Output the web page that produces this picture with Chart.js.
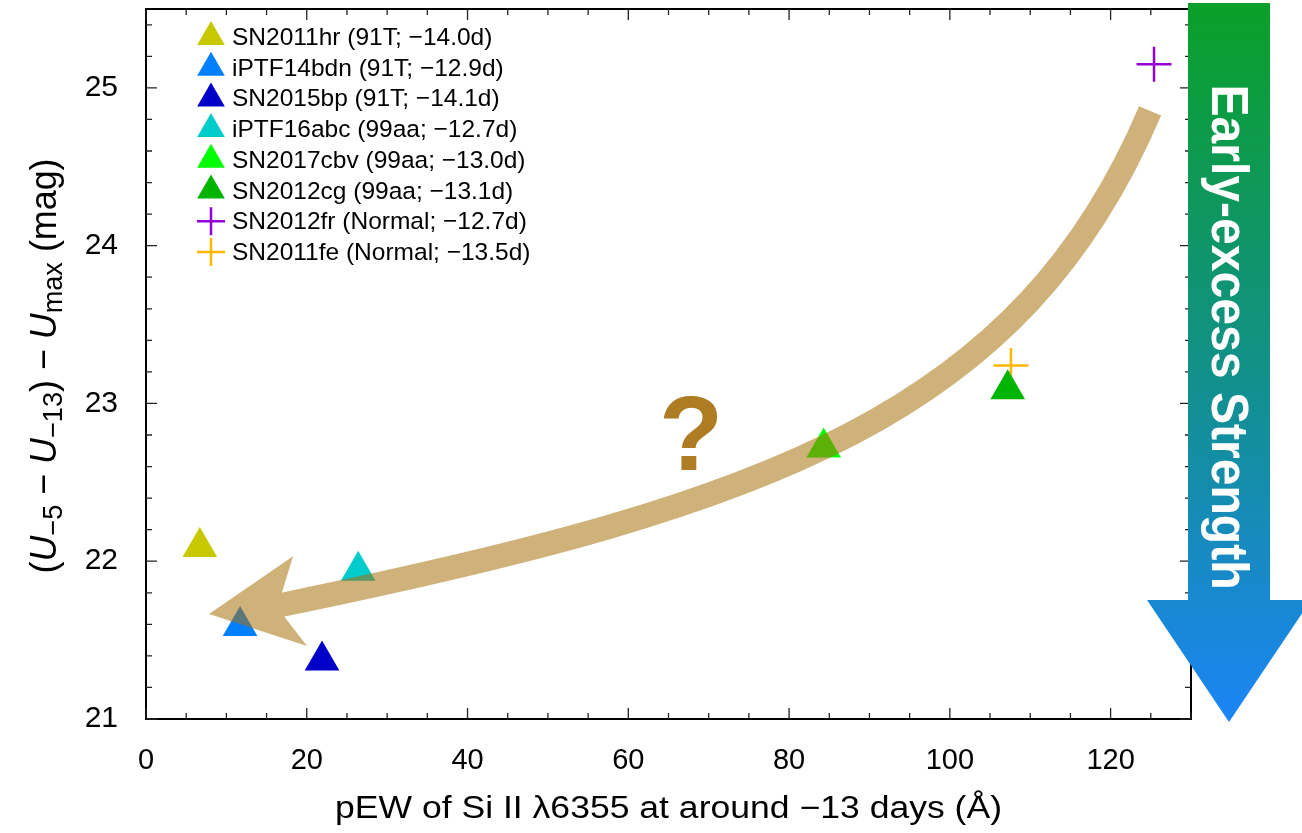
<!DOCTYPE html>
<html><head><meta charset="utf-8">
<script src="https://cdn.jsdelivr.net/npm/chart.js@4.4.1/dist/chart.umd.min.js"></script>
<style>html,body{margin:0;padding:0;background:#fff;overflow:hidden}#wrap{width:1302px;height:833px;position:relative}</style>
</head><body><div id="wrap"><canvas id="c" width="1302" height="833"></canvas></div>
<script>
// ---- data ----
const SN_NAMES = ['SN2011hr','iPTF14bdn','SN2015bp','iPTF16abc','SN2017cbv','SN2012cg','SN2012fr','SN2011fe'];
const SN_CLASS = ['91T','91T','91T','99aa','99aa','99aa','Normal','Normal'];
const SN_PHASE = [-14.0,-12.9,-14.1,-12.7,-13.0,-13.1,-12.7,-13.5];
const PEW_SI   = [6.7, 11.7, 21.9, 26.4, 84.3, 107.2, 125.4, 107.6];
const DELTA_U  = [22.09, 21.59, 21.37, 21.94, 22.72, 23.09, 25.15, 23.24];
const X_TICKS = [0,20,40,60,80,100,120];
const Y_TICKS = [21,22,23,24,25];
// ---- styles ----
const COLORS  = ['#C8C800','#0080FF','#0000C8','#00CCCC','#00FF00','#00B400','#9400D3','#FFB700'];
const MARKERS = ['triangle','triangle','triangle','triangle','triangle','triangle','cross','cross'];
// ---- annotation geometry (data units) ----
const TREND_CURVE = [[124.91,24.854],[108.86,22.930],[77.63,22.361],[17.29,21.728]];
const TREND_HEAD  = [[7.84,21.665],[18.29,22.032],[16.92,21.804],[17.17,21.652],[20.03,21.462]];
const QMARK_AT = [67.8, 22.576];

const FONT = '"Liberation Sans", Arial, Helvetica, sans-serif';
const MINUS = '\u2212';
function fmtPhase(p){ return (p<0?MINUS:'') + Math.abs(p).toFixed(1) + 'd'; }
const LABELS = SN_NAMES.map((n,i)=>`${n} (${SN_CLASS[i]}; ${fmtPhase(SN_PHASE[i])})`);

const datasets = SN_NAMES.map((n,i)=>({
  label: LABELS[i],
  data: [{x: PEW_SI[i], y: DELTA_U[i]}],
  pointStyle: MARKERS[i],
  pointRadius: MARKERS[i]==='triangle' ? 20 : 17.5,
  backgroundColor: COLORS[i],
  borderColor: COLORS[i],
  borderWidth: MARKERS[i]==='triangle' ? 0 : 2.5,
  showLine: false
}));

function drawMarker(ctx, style, x, y, r, color){
  ctx.save();
  ctx.fillStyle = color; ctx.strokeStyle = color; ctx.lineWidth = 2.5;
  ctx.beginPath();
  if (style === 'triangle'){
    for (let k=0;k<3;k++){
      const ang = k*2*Math.PI/3;
      const px = x + Math.sin(ang)*r, py = y - Math.cos(ang)*r;
      k===0 ? ctx.moveTo(px,py) : ctx.lineTo(px,py);
    }
    ctx.closePath(); ctx.fill();
  } else {
    ctx.moveTo(x-r,y); ctx.lineTo(x+r,y); ctx.moveTo(x,y-r); ctx.lineTo(x,y+r); ctx.stroke();
  }
  ctx.restore();
}

function fitText(ctx, text, x, y, targetW){
  const w = ctx.measureText(text).width;
  ctx.save(); ctx.translate(x,y); ctx.scale(targetW/w,1);
  ctx.textAlign='center'; ctx.fillText(text,0,0); ctx.restore();
}

const decor = {
  id: 'decor',
  afterDatasetsDraw(chart){
    const {ctx, scales:{x,y}} = chart;
    const P = TREND_CURVE.map(([a,b])=>[x.getPixelForValue(a), y.getPixelForValue(b)]);
    const H = TREND_HEAD.map(([a,b])=>[x.getPixelForValue(a), y.getPixelForValue(b)]);
    const off = document.createElement('canvas');
    off.width = chart.canvas.width; off.height = chart.canvas.height;
    const o = off.getContext('2d');
    o.strokeStyle = o.fillStyle = 'rgb(168,113,13)';
    o.lineWidth = 24; o.lineCap = 'butt'; o.lineJoin = 'round';
    const dx = P[3][0]-P[2][0], dy = P[3][1]-P[2][1], dl = Math.hypot(dx,dy);
    o.beginPath(); o.moveTo(P[0][0],P[0][1]);
    o.bezierCurveTo(P[1][0],P[1][1],P[2][0],P[2][1],P[3][0],P[3][1]);
    o.lineTo(P[3][0]+dx/dl*14, P[3][1]+dy/dl*14);
    o.stroke();
    o.beginPath(); H.forEach((p,k)=> k?o.lineTo(p[0],p[1]):o.moveTo(p[0],p[1])); o.closePath(); o.fill();
    ctx.save(); ctx.setTransform(1,0,0,1,0,0); ctx.globalAlpha = 0.55; ctx.drawImage(off,0,0); ctx.restore();
  },
  afterDraw(chart){
    const {ctx, chartArea:a, scales:{x,y}} = chart;
    ctx.save();
    // frame
    ctx.strokeStyle = '#000'; ctx.lineWidth = 2;
    ctx.strokeRect(a.left, a.top, a.right-a.left, a.bottom-a.top);
    // inner ticks
    ctx.lineWidth = 1.3; ctx.strokeStyle = '#222';
    ctx.beginPath();
    for (let i=0; i<=26; i++){
      const v = i*5, L = (v%20===0)?11:6, px = x.getPixelForValue(v);
      ctx.moveTo(px,a.bottom); ctx.lineTo(px,a.bottom-L);
      ctx.moveTo(px,a.top); ctx.lineTo(px,a.top+L);
    }
    for (let i=0; i<=22; i++){
      const v = 21 + i*0.2, L = (i%5===0)?11:6, py = y.getPixelForValue(v);
      ctx.moveTo(a.left,py); ctx.lineTo(a.left+L,py);
      ctx.moveTo(a.right,py); ctx.lineTo(a.right-L,py);
    }
    ctx.stroke();
    // question mark
    ctx.fillStyle = '#AE7C22'; ctx.font = `bold 105px ${FONT}`;
    ctx.textAlign = 'center'; ctx.textBaseline = 'alphabetic';
    ctx.fillText('?', x.getPixelForValue(QMARK_AT[0]), y.getPixelForValue(QMARK_AT[1]));
    // legend
    ctx.font = `24.5px ${FONT}`; ctx.textAlign='left'; ctx.fillStyle='#000';
    chart.data.datasets.forEach((ds,i)=>{
      const base = a.top + 36 + 30.7*i;
      drawMarker(ctx, MARKERS[i], a.left+65, base-8, MARKERS[i]==='triangle'?16:14, COLORS[i]);
      ctx.fillStyle='#000'; ctx.fillText(ds.label, a.left+86, base);
    });
    // x title
    ctx.font = `31px ${FONT}`; ctx.fillStyle = '#000'; ctx.textBaseline='alphabetic';
    fitText(ctx, 'pEW of Si II \u03BB6355 at around '+MINUS+'13 days (\u00C5)', (a.left+a.right)/2, 818, 667);
    // y title (rich text, rotated)
    const runs = [['(',0,0],['U',1,0],[MINUS+'5',0,1],[' '+MINUS+' ',0,0],['U',1,0],[MINUS+'13',0,1],[') '+MINUS+' ',0,0],['U',1,0],['max',0,1],[' (mag)',0,0]];
    const fontOf = r => `${r[1]?'italic ':''}${r[2]?28:37}px ${FONT}`;
    let W = 0; const ws = runs.map(r=>{ ctx.font = fontOf(r); const w = ctx.measureText(r[0]).width; W += w; return w; });
    const target = 415;
    ctx.save(); ctx.translate(56, (a.top+a.bottom)/2 + 2); ctx.rotate(-Math.PI/2); ctx.scale(target/W,1);
    let cx = -W/2; ctx.textAlign='left';
    runs.forEach((r,k)=>{ ctx.font = fontOf(r); ctx.fillText(r[0], cx, r[2]?6:0); cx += ws[k]; });
    ctx.restore();
    // early-excess strength arrow
    const sx0 = a.right - 3, sw = 82, cxA = sx0 + sw/2, topY = 3, shaftB = 600, tipY = a.bottom + 3, hw = 82;
    const g = ctx.createLinearGradient(0, topY, 0, tipY);
    g.addColorStop(0, 'rgb(10,160,40)'); g.addColorStop(0.5, 'rgb(17,145,135)'); g.addColorStop(1, 'rgb(28,132,246)');
    ctx.fillStyle = g;
    ctx.beginPath();
    ctx.moveTo(sx0, topY); ctx.lineTo(sx0+sw, topY); ctx.lineTo(sx0+sw, shaftB);
    ctx.lineTo(cxA+hw, shaftB); ctx.lineTo(cxA, tipY); ctx.lineTo(cxA-hw, shaftB);
    ctx.lineTo(sx0, shaftB); ctx.closePath(); ctx.fill();
    ctx.fillStyle = '#fff'; ctx.font = `bold 52px ${FONT}`; ctx.textBaseline='middle';
    ctx.save(); ctx.translate(cxA - 1, 337); ctx.rotate(Math.PI/2);
    const tw = ctx.measureText('Early-excess Strength').width;
    ctx.scale(505/tw, 1); ctx.textAlign='center'; ctx.fillText('Early-excess Strength', 0, 2);
    ctx.restore();
    ctx.restore();
  }
};

new Chart(document.getElementById('c'), {
  type: 'scatter',
  data: { datasets },
  options: {
    responsive: false, animation: false, devicePixelRatio: 1,
    layout: { autoPadding: false, padding: { left: 0, right: 111, top: 9, bottom: 0 } },
    plugins: { legend: { display: false }, tooltip: { enabled: false } },
    scales: {
      x: {
        type: 'linear', min: 0, max: 130,
        afterBuildTicks: s => { s.ticks = X_TICKS.map(v=>({value:v})); },
        afterFit: s => { s.height = 114; s.paddingLeft = 0; s.paddingRight = 0; },
        grid: { display: false, drawTicks: false }, border: { display: false },
        ticks: { padding: 25, color: '#000', font: { family: FONT, size: 29 }, maxRotation: 0, autoSkip: false }
      },
      y: {
        type: 'linear', min: 21, max: 25.5,
        afterBuildTicks: s => { s.ticks = Y_TICKS.map(v=>({value:v})); },
        afterFit: s => { s.width = 146; s.paddingTop = 0; s.paddingBottom = 0; },
        grid: { display: false, drawTicks: false }, border: { display: false },
        ticks: { padding: 28, color: '#000', font: { family: FONT, size: 30 }, autoSkip: false }
      }
    }
  },
  plugins: [decor]
});
</script></body></html>
